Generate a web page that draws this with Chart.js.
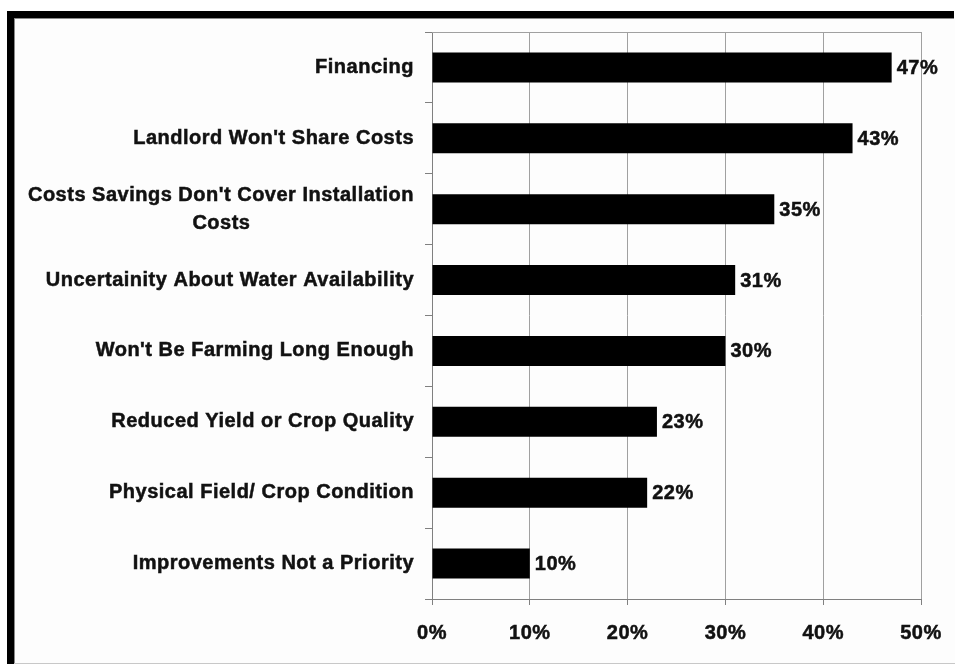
<!DOCTYPE html>
<html>
<head>
<meta charset="utf-8">
<script src="https://cdn.jsdelivr.net/npm/chart.js@4.4.1/dist/chart.umd.min.js"></script>
<style>
  html, body { margin: 0; padding: 0; background: #ffffff; }
  #wrap { position: relative; width: 955px; height: 664px; }
</style>
</head>
<body>
<div id="wrap"><canvas id="chart-reasons" width="955" height="664"></canvas></div>
<script>
// --- DATOS ---
const reasons = [
    'Financing',
    "Landlord Won't Share Costs",
    ["Costs Savings Don't Cover Installation", 'Costs'],
    'Uncertainity About Water Availability',
    "Won't Be Farming Long Enough",
    'Reduced Yield or Crop Quality',
    'Physical Field/ Crop Condition',
    'Improvements Not a Priority'
];
const percents = [47, 43, 35, 31, 30, 23, 22, 10];
const xTicks = [0, 10, 20, 30, 40, 50];

const FONT = { family: '"Liberation Sans", Arial, sans-serif', size: 20, weight: 'bold' };
const SPACING = '0.5px';
const INK = '#111';

// pad the second line so it sits centred under the first when labels are right-aligned
function centerUnder(lines) {
    if (!Array.isArray(lines)) return lines;
    const ctx = document.createElement('canvas').getContext('2d');
    ctx.font = `bold ${FONT.size}px ${FONT.family}`;
    ctx.letterSpacing = SPACING;
    const w0 = ctx.measureText(lines[0]).width;
    return lines.map(l => {
        let s = l;
        const target = (w0 - ctx.measureText(l).width) / 2;
        while (ctx.measureText(s + '\u00a0').width - ctx.measureText(l).width <= target) s += '\u00a0';
        return s;
    });
}

// --- MARCO ---
const framePlugin = {
    id: 'frame',
    beforeUpdate(chart) {
        chart.ctx.letterSpacing = SPACING;
    },
    beforeDraw(chart) {
        const { ctx, width, height } = chart;
        ctx.letterSpacing = SPACING;
        ctx.save();
        ctx.fillStyle = '#fdfdfd';
        ctx.fillRect(14, 17, width - 14, height - 17);
        ctx.fillStyle = '#000';
        ctx.fillRect(7, 11, width - 8, 7);
        ctx.fillRect(7, 11, 7, height - 11);
        ctx.fillStyle = '#8a8a8a';
        ctx.fillRect(14, 18, width - 15, 1);
        ctx.fillRect(14, 18, 1, height - 18);
        ctx.fillStyle = '#c8c8c8';
        ctx.fillRect(14, height - 1, width - 14, 1);
        ctx.restore();
    },
    afterDatasetsDraw(chart) {
        const { ctx, chartArea } = chart;
        ctx.save();
        ctx.strokeStyle = '#a0a0a0';
        ctx.lineWidth = 1;
        ctx.beginPath();
        ctx.moveTo(chartArea.left, Math.round(chartArea.top) + 0.5);
        ctx.lineTo(chartArea.right, Math.round(chartArea.top) + 0.5);
        ctx.stroke();
        // etiquetas de valor
        ctx.fillStyle = INK;
        ctx.strokeStyle = INK;
        ctx.lineWidth = 0.5;
        ctx.font = `bold ${FONT.size}px ${FONT.family}`;
        ctx.textAlign = 'left';
        ctx.textBaseline = 'middle';
        chart.getDatasetMeta(0).data.forEach((bar, i) => {
            const txt = percents[i] + '%';
            ctx.fillText(txt, bar.x + 5, bar.y + 1);
            ctx.strokeText(txt, bar.x + 5, bar.y + 1);
        });
        ctx.restore();
    }
};

new Chart(document.getElementById('chart-reasons'), {
    type: 'bar',
    data: {
        labels: reasons.map(centerUnder),
        datasets: [{
            data: percents,
            backgroundColor: '#000',
            borderWidth: 0,
            categoryPercentage: 1,
            barPercentage: 0.423
        }]
    },
    options: {
        indexAxis: 'y',
        responsive: false,
        animation: false,
        devicePixelRatio: 1,
        layout: { padding: { left: 15, top: 32, right: 34, bottom: 0 } },
        plugins: { legend: { display: false }, tooltip: { enabled: false } },
        scales: {
            x: {
                min: 0,
                max: 50,
                afterBuildTicks: s => { s.ticks = xTicks.map(v => ({ value: v })); },
                afterFit: s => { s.height = 65; s.paddingLeft = 0; s.paddingRight = 0; },
                grid: { color: '#a0a0a0', tickLength: 6, tickColor: '#808080' },
                border: { color: '#808080' },
                ticks: { color: INK, font: FONT, padding: 16, textStrokeColor: INK, textStrokeWidth: 0.5, callback: v => v + '%' }
            },
            y: {
                afterFit: s => { s.width = 417; s.paddingTop = 0; s.paddingBottom = 0; },
                grid: { drawOnChartArea: false, tickLength: 7, tickColor: '#808080', offset: true },
                border: { color: '#808080' },
                ticks: { color: INK, font: { ...FONT, lineHeight: 1.4 }, padding: 11, textStrokeColor: INK, textStrokeWidth: 0.5, autoSkip: false }
            }
        }
    },
    plugins: [framePlugin]
});
</script>
</body>
</html>
